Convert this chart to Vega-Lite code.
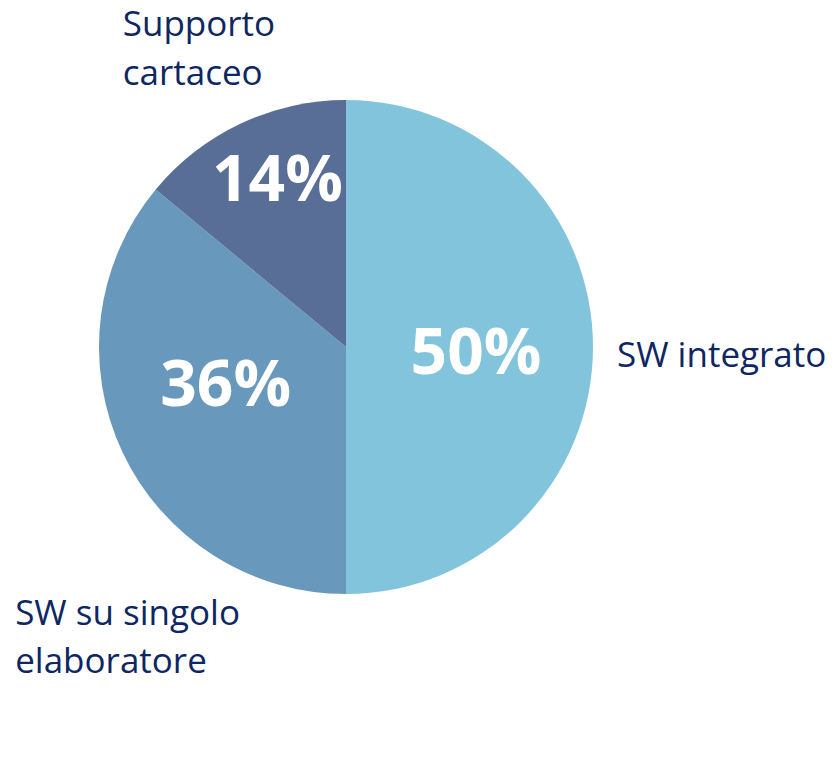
{
  "$schema": "https://vega.github.io/schema/vega-lite/v6.json",
  "width": 692,
  "height": 694,
  "autosize": {"type": "none"},
  "padding": {"left": 0, "top": 0, "right": 142, "bottom": 73},
  "background": "white",
  "view": {"stroke": null},
  "data": {
    "values": [
      {"idx": 1, "cat": "SW integrato", "label": "SW integrato", "share": 0.50},
      {"idx": 2, "cat": "SW su singolo elaboratore", "label": "SW su singolo\nelaboratore", "share": 0.36},
      {"idx": 3, "cat": "Supporto cartaceo", "label": "Supporto\ncartaceo", "share": 0.14}
    ]
  },
  "encoding": {
    "theta": {"field": "share", "type": "quantitative", "stack": true},
    "order": {"field": "idx", "type": "quantitative"}
  },
  "layer": [
    {
      "mark": {"type": "arc", "radius": 247},
      "encoding": {
        "color": {
          "field": "cat",
          "type": "nominal",
          "scale": {
            "domain": ["SW integrato", "SW su singolo elaboratore", "Supporto cartaceo"],
            "range": ["#82C4DC", "#6899BD", "#586E96"]
          },
          "legend": null
        }
      }
    },
    {
      "mark": {"type": "text", "radius": 130, "dy": 27, "font": "Open Sans", "fontWeight": "bold", "fontSize": 64, "fill": "white", "align": "center", "baseline": "alphabetic"},
      "encoding": {"text": {"condition": {"test": "datum.idx === 1", "field": "share", "type": "quantitative", "format": ".0%"}, "value": ""}}
    },
    {
      "mark": {"type": "text", "radius": 133, "dy": 2, "font": "Open Sans", "fontWeight": "bold", "fontSize": 64, "fill": "white", "align": "center", "baseline": "alphabetic"},
      "encoding": {"text": {"condition": {"test": "datum.idx === 2", "field": "share", "type": "quantitative", "format": ".0%"}, "value": ""}}
    },
    {
      "mark": {"type": "text", "radius": 161, "dy": 0, "font": "Open Sans", "fontWeight": "bold", "fontSize": 64, "fill": "white", "align": "center", "baseline": "alphabetic"},
      "encoding": {"text": {"condition": {"test": "datum.idx === 3", "field": "share", "type": "quantitative", "format": ".0%"}, "value": ""}}
    },
    {
      "mark": {"type": "text", "radius": 271, "dy": 20, "font": "Open Sans", "fontSize": 35, "fill": "#0E2763", "align": "left", "baseline": "alphabetic", "lineBreak": "\n", "lineHeight": 48},
      "encoding": {"text": {"condition": {"test": "datum.idx === 1", "field": "label", "type": "nominal"}, "value": ""}}
    },
    {
      "mark": {"type": "text", "radius": 380, "dx": 13, "dy": 116, "font": "Open Sans", "fontSize": 35, "fill": "#0E2763", "align": "left", "baseline": "alphabetic", "lineBreak": "\n", "lineHeight": 48},
      "encoding": {"text": {"condition": {"test": "datum.idx === 2", "field": "label", "type": "nominal"}, "value": ""}}
    },
    {
      "mark": {"type": "text", "radius": 320, "dx": -87, "dy": -21, "font": "Open Sans", "fontSize": 35, "fill": "#0E2763", "align": "left", "baseline": "alphabetic", "lineBreak": "\n", "lineHeight": 49},
      "encoding": {"text": {"condition": {"test": "datum.idx === 3", "field": "label", "type": "nominal"}, "value": ""}}
    }
  ]
}
